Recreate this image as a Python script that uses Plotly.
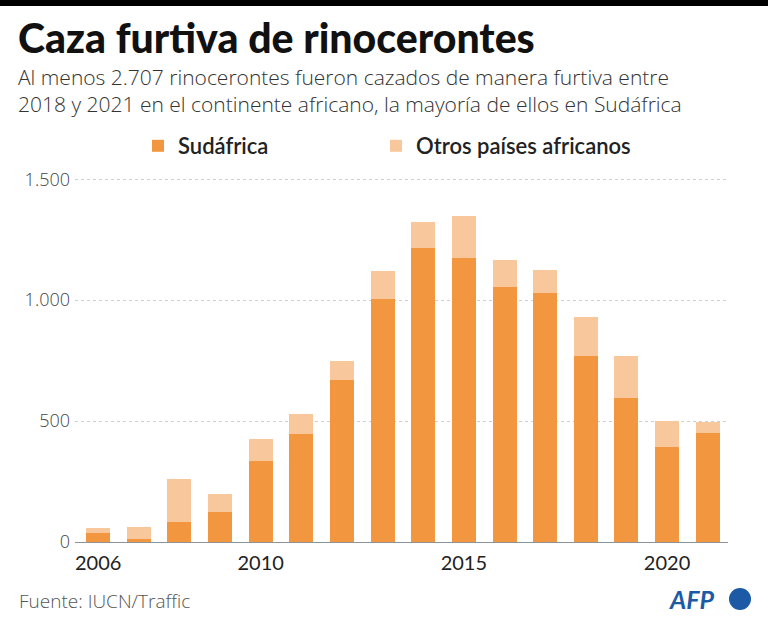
import plotly.graph_objects as go

years = [2006, 2007, 2008, 2009, 2010, 2011, 2012, 2013, 2014, 2015, 2016, 2017, 2018, 2019, 2020, 2021]
sudafrica = [36, 13, 83, 122, 333, 448, 668, 1004, 1215, 1175, 1054, 1028, 769, 594, 394, 451]
otros = [22, 47, 177, 77, 91, 81, 81, 117, 108, 173, 112, 95, 160, 177, 106, 46]
x_ticks = [2006, 2010, 2015, 2020]
y_ticks = [0, 500, 1000, 1500]
y_ticklabels = ["0", "500", "1.000", "1.500"]

W, H = 768, 629
ML, MR, MT, MB = 75, 40, 170, 87
PW, PH = W - ML - MR, H - MT - MB

def px(x):
    return (x - ML) / PW

def py(y):
    return (H - MB - y) / PH

C_SA = "#f2973f"
C_OT = "#f8c89c"
FONT = "Lato"
LIGHT = "Open Sans"

fig = go.Figure()
fig.add_trace(go.Bar(x=years, y=sudafrica, name="Sudáfrica", marker_color=C_SA,
                     marker_line_width=0, legend="legend"))
fig.add_trace(go.Bar(x=years, y=otros, name="Otros países africanos", marker_color=C_OT,
                     marker_line_width=0, legend="legend2"))

legfont = dict(size=22, color="#222", family=FONT, weight=600)
fig.update_layout(
    width=W, height=H,
    margin=dict(l=ML, r=MR, t=MT, b=MB),
    barmode="stack", bargap=0.41,
    plot_bgcolor="white", paper_bgcolor="white",
    font=dict(family=FONT, color="#222"),
    showlegend=True,
    legend=dict(orientation="h", x=px(138), y=py(146), xanchor="left", yanchor="middle",
                font=legfont, itemclick=False),
    legend2=dict(orientation="h", x=px(376), y=py(146), xanchor="left", yanchor="middle",
                 font=legfont, itemclick=False),
    xaxis=dict(range=[2005.43, 2021.5], tickvals=x_ticks, ticktext=[str(v) for v in x_ticks],
               showgrid=False, zeroline=False, showline=True, linecolor="#8e9299", linewidth=1,
               ticks="", ticklabelstandoff=3, tickfont=dict(size=20, color="#222", family=FONT)),
    yaxis=dict(range=[0, 1538], tickvals=y_ticks, ticktext=y_ticklabels,
               showgrid=True, gridcolor="#d0d0d0", griddash="dot", gridwidth=1,
               zeroline=False, ticks="", ticklabelstandoff=4,
               tickfont=dict(size=18, color="#444", family=LIGHT, weight=300)),
)

annotations = [
    dict(text="Caza furtiva de rinocerontes", x=px(16), y=py(37), xanchor="left", yanchor="middle",
         font=dict(size=41, color="#111", family=FONT, weight=900)),
    dict(text="Al menos 2.707 rinocerontes fueron cazados de manera furtiva entre<br>2018 y 2021 en el continente africano, la mayoría de ellos en Sudáfrica",
         x=px(16), y=py(91), xanchor="left", yanchor="middle", align="left",
         font=dict(size=21, color="#333", family=LIGHT, weight=300)),
    dict(text="Fuente: IUCN/Traffic", x=px(17), y=py(601), xanchor="left", yanchor="middle",
         font=dict(size=19, color="#555", family=LIGHT, weight=300)),
    dict(text="<b><i>AFP</i></b>", x=px(717), y=py(599), xanchor="right", yanchor="middle",
         font=dict(size=25, color="#1d5aa6", family=FONT, weight=900)),
]
for a in annotations:
    a.update(xref="paper", yref="paper", showarrow=False)
fig.update_layout(annotations=annotations)

fig.add_shape(type="rect", xref="paper", yref="paper", x0=px(0), x1=px(W), y0=py(0), y1=py(6),
              fillcolor="#000", line_width=0)
fig.add_shape(type="circle", xref="paper", yref="paper", x0=px(729), x1=px(751), y0=py(610), y1=py(588),
              fillcolor="#1d5aa6", line_width=0)

fig.write_html("out.html")
